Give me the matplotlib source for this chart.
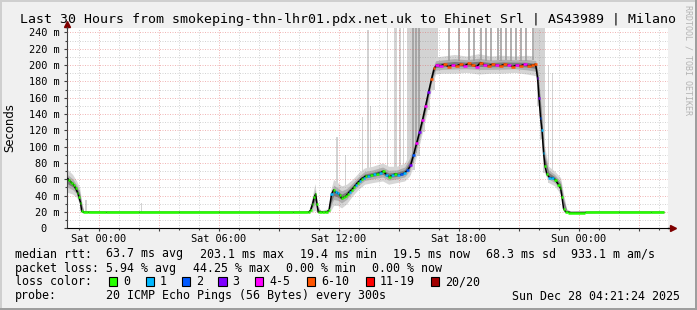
import numpy as np
import matplotlib
matplotlib.use('Agg')
import matplotlib.pyplot as plt
from matplotlib.collections import LineCollection
from matplotlib.patches import Rectangle

# hours relative to Sat 00:00, median rtt in ms, lost pings out of 20
t = [-1.54, -1.49, -1.40, -1.32, -1.24, -1.15, -1.04, -0.98, -0.90, -0.85, -0.75,
     -0.30, 1.0, 3.0, 5.0, 7.0, 9.0, 10.40,
     10.50, 10.60, 10.70, 10.78, 10.85, 10.92, 10.98, 11.10, 11.25, 11.40, 11.52,
     11.65, 11.75, 11.85, 11.95, 12.05, 12.15, 12.25, 12.35, 12.45, 12.55, 12.65,
     12.75, 12.85, 12.95, 13.05, 13.15, 13.25, 13.35, 13.50, 13.65, 13.80, 13.95,
     14.10, 14.25, 14.40, 14.55, 14.70, 14.85, 15.00, 15.15, 15.30, 15.45, 15.60,
     15.75, 15.90, 16.05, 16.20, 16.35, 16.50, 16.65, 16.78, 16.90,
     17.10, 17.30, 17.50, 17.70, 17.90, 18.10, 18.30, 18.50, 18.70, 18.90, 19.10,
     19.30, 19.50, 19.70, 19.90, 20.10, 20.30, 20.50, 20.70, 20.90, 21.10, 21.30,
     21.50, 21.70, 21.85,
     21.95, 22.02, 22.10, 22.17, 22.25, 22.32, 22.42, 22.55, 22.70, 22.85, 23.00,
     23.10, 23.17, 23.25, 23.35, 23.60, 25.0, 27.0, 28.25]
median = [61, 59, 57, 55, 53, 49, 43, 38, 31, 21, 19.8,
          19.6, 19.5, 19.5, 19.5, 19.5, 19.5, 19.6,
          19.8, 22, 30, 38, 42, 30, 20, 20.5, 19.5, 20, 22,
          42, 47, 44, 43, 41, 37, 38, 39, 42, 45, 47,
          50, 53, 56, 58, 61, 62, 64, 64, 65, 66, 67,
          68, 70, 65, 63, 65, 67, 65, 66, 68, 71, 77,
          90, 104, 118, 133, 150, 167, 183, 196, 200,
          199, 201, 198, 200, 199, 201, 199, 202, 200, 198, 203,
          200, 199, 201, 200, 199, 201, 200, 198, 200, 199, 201,
          199, 200, 201,
          184, 160, 135, 120, 92, 76, 66, 62, 62, 59, 53,
          49, 38, 24, 20.3, 19.3, 19.5, 19.5, 19.5]
loss = [1, 0, 0, 0, 0, 0, 0, 0, 0, 0, 0,
        0, 0, 0, 0, 0, 0, 0,
        0, 0, 0, 0, 0, 0, 0, 0, 0, 0, 0,
        1, 0, 1, 1, 0, 0, 0, 0, 0, 1, 0,
        0, 1, 0, 1, 0, 1, 0, 1, 0, 1, 0,
        1, 0, 1, 0, 1, 0, 1, 2, 1, 2, 3,
        2, 4, 3, 4, 4, 3, 8, 8, 5,
        5, 8, 8, 5, 8, 8, 5, 8, 8, 5, 8,
        5, 8, 8, 5, 8, 8, 5, 8, 5, 8, 5,
        8, 8, 8,
        3, 3, 2, 1, 1, 0, 0, 1, 1, 0, 0,
        0, 0, 0, 0, 0, 0, 0, 0]

# smoke envelope (spread of the 20 pings)
smoke_t = [-1.55, -1.30, -1.10, -0.95, -0.85, -0.75, -0.60, 10.50, 10.65, 10.82,
           10.95, 11.10, 11.50, 11.62, 11.75, 11.95, 12.15, 12.40, 12.70, 13.00,
           13.30, 13.70, 14.20, 14.50, 14.90, 15.30, 15.55, 15.80, 16.10, 16.40,
           16.65, 16.85, 17.20, 17.80, 18.40, 19.00, 19.60, 20.20, 20.80, 21.40,
           21.85, 21.95, 22.10, 22.30, 22.50, 22.80, 23.10, 23.25, 23.40, 23.60, 28.25]
smoke_lo = [44, 42, 38, 30, 19, 19, 19, 19, 20, 22,
            19, 19, 19, 22, 28, 28, 25, 30, 40, 48,
            54, 56, 58, 54, 56, 58, 64, 80, 108, 140,
            172, 189, 190, 190, 191, 189, 190, 190, 191, 189,
            187, 168, 120, 68, 56, 52, 42, 20, 19, 19, 19]
smoke_hi = [72, 66, 58, 50, 34, 22, 21, 21, 35, 55,
            28, 22, 24, 48, 60, 56, 52, 54, 60, 68,
            74, 76, 80, 76, 76, 80, 92, 112, 138, 170,
            200, 210, 211, 213, 211, 214, 211, 212, 211, 212,
            211, 205, 170, 100, 76, 70, 62, 42, 24, 21, 21]

# light grey outlier columns
spike_t = [-0.62, 2.15, 11.90, 12.35, 13.20, 13.45, 13.60, 14.45, 14.85, 15.05,
           15.25, 15.52, 15.72, 15.95, 16.20, 16.45, 16.70, 16.90, 21.85, 22.00,
           22.15, 22.28, 22.50, 22.70]
spike_w = [0.08, 0.08, 0.10, 0.06, 0.08, 0.10, 0.06, 0.06, 0.12, 0.10,
           0.06, 0.16, 0.22, 0.26, 0.26, 0.26, 0.24, 0.16, 0.14, 0.16,
           0.16, 0.10, 0.07, 0.07]
spike_lo = [19, 19, 30, 35, 50, 55, 58, 60, 58, 58,
            60, 65, 72, 88, 118, 145, 170, 190, 186, 150,
            110, 68, 55, 55]
spike_hi = [35, 31, 112, 90, 136, 243, 150, 246, 246, 246,
            246, 246, 246, 246, 246, 246, 246, 246, 246, 246,
            246, 246, 200, 190]

# darker outlier lines
dark_t = [15.70, 15.85, 16.00, 17.50, 18.00, 18.50, 18.75, 19.10, 19.35, 19.60,
          19.95, 20.10, 20.35, 20.60, 20.85, 21.10, 21.35, 21.70]
dark_lo = [80, 92, 112, 205, 205, 206, 205, 206, 205, 205,
           206, 205, 206, 205, 206, 205, 205, 206]
dark_hi = [246, 246, 246, 246, 246, 246, 246, 246, 246, 246,
           246, 246, 246, 246, 246, 246, 246, 246]

loss_labels = ['0', '1', '2', '3', '4-5', '6-10', '11-19', '20/20']
loss_colors = ['#26ff00', '#00b8ff', '#0059ff', '#7e00ff', '#ff00ff', '#ff5500', '#ff0000', '#a10000']

ytick_vals = [0, 20, 40, 60, 80, 100, 120, 140, 160, 180, 200, 220, 240]
ytick_labels = ['0  '] + ['%d m' % v for v in ytick_vals[1:]]
xtick_vals = [0, 3, 6, 9, 12, 15, 18, 21, 24, 27]
xtick_labels = ['Sat 00:00', '', 'Sat 06:00', '', 'Sat 12:00', '', 'Sat 18:00', '', 'Sun 00:00', '']

W, H = 697, 310
MONO = 'DejaVu Sans Mono'

def fx(px):
    return px / W

def fy(py):
    return 1 - py / H

fig = plt.figure(figsize=(W / 100, H / 100), dpi=100, facecolor='#f0f0f0')
ax = fig.add_axes([fx(67), fy(228.3), (668 - 67) / W, (228.3 - 27.5) / H])
ax.set_facecolor('white')
ax.set_xlim(-1.58, 28.47)
ax.set_ylim(0, 246)

# outliers
ax.bar(spike_t, np.array(spike_hi) - np.array(spike_lo), width=spike_w, bottom=spike_lo,
       color='#d3d3d3', linewidth=0, zorder=1)

# smoke in three shades
s_lo = np.array(smoke_lo, float)
s_hi = np.array(smoke_hi, float)
mid = (s_lo + s_hi) / 2
half = (s_hi - s_lo) / 2
for f, c in [(1.0, '#d6d6d6'), (0.55, '#b0b0b0'), (0.25, '#7a7a7a')]:
    ax.fill_between(smoke_t, mid - f * half, mid + f * half, color=c, linewidth=0, zorder=1.2)

ax.vlines(dark_t, dark_lo, dark_hi, color='#9a9a9a', linewidth=1.1, zorder=1.3)

# median line
ax.plot(t, median, color='black', linewidth=1.1, zorder=3)

# loss coloured median
ta = np.array(t)
ma = np.array(median)
edges = np.concatenate([[ta[0]], (ta[1:] + ta[:-1]) / 2, [ta[-1]]])
cat = np.digitize(loss, [1, 2, 3, 4, 6, 11, 20])
segs = [[(edges[i], ma[i]), (edges[i + 1], ma[i])] for i in range(len(ta))]
lc = LineCollection(segs, colors=[loss_colors[c] for c in cat], linewidths=1.8,
                    capstyle='butt', zorder=4)
ax.add_collection(lc)

# grid
ax.set_yticks(ytick_vals)
ax.set_yticklabels(ytick_labels, family=MONO, fontsize=7.4)
ax.set_yticks(np.arange(10, 246, 20), minor=True)
ax.set_xticks(xtick_vals)
ax.set_xticklabels(xtick_labels, family=MONO, fontsize=7.4)
ax.set_xticks(np.arange(-1, 29, 1), minor=True)
ax.grid(which='major', color='#e06060', alpha=0.45, linestyle=(0, (1, 1.5)), linewidth=0.72, zorder=2.5)
ax.grid(which='minor', color='#8f8f8f', alpha=0.38, linestyle=(0, (1, 1.5)), linewidth=0.72, zorder=2.5)
ax.set_axisbelow(False)

ax.tick_params(which='major', length=2.5, width=0.8, color='#404040')
ax.tick_params(which='minor', length=1.5, width=0.8, color='#404040')
ax.tick_params(axis='x', pad=1.5)
ax.tick_params(axis='y', pad=3)
for s in ['top', 'right']:
    ax.spines[s].set_visible(False)
ax.spines['left'].set_color('#404040')
ax.spines['bottom'].set_color('black')

# arrows
ax.plot([1.0, 1.006], [0, 0], color='black', linewidth=1, transform=ax.transAxes, clip_on=False)
ax.plot([1.008], [0], marker='>', markersize=5, color='#7f0000', transform=ax.transAxes, clip_on=False)
ax.plot([0, 0], [1.0, 1.01], color='#404040', linewidth=1, transform=ax.transAxes, clip_on=False)
ax.plot([0], [1.017], marker='^', markersize=5, color='#7f0000', transform=ax.transAxes, clip_on=False)

# texts
fig.text(fx(19.5), fy(19), 'Last 30 Hours from smokeping-thn-lhr01.pdx.net.uk to Ehinet Srl | AS43989 | Milano',
         family=MONO, fontsize=9.5, ha='left', va='center')
fig.text(fx(10), fy(127.5), 'Seconds', rotation=90, ha='center', va='center', fontsize=8.4,
         family='DejaVu Sans')
fig.text(fx(688), fy(60), 'RRDTOOL / TOBI OETIKER', rotation=270, ha='center', va='center',
         fontsize=6, family=MONO, color='#b4b4b4')

rows = [
    (254, [('median rtt:', 16), ('63.7 ms avg', 107), ('203.1 ms max', 200.7), ('19.4 ms min', 300.5),
           ('19.5 ms now', 393.3), ('68.3 ms sd', 486.7), ('933.1 m am/s', 572)]),
    (268.3, [('packet loss:', 16), ('5.94 % avg', 107), ('44.25 % max', 193.3), ('0.00 % min', 286.7),
             ('0.00 % now', 372.5)]),
    (296, [('probe:', 16), ('20 ICMP Echo Pings (56 Bytes) every 300s', 107),
           ('Sun Dec 28 04:21:24 2025', 513)]),
]
for y, items in rows:
    for s, x in items:
        fig.text(fx(x - 0.7), fy(y), s, family=MONO, fontsize=8.4, ha='left', va='center')

fig.text(fx(15.3), fy(281.7), 'loss color:', family=MONO, fontsize=8.4, ha='left', va='center')
box_x = [109, 145.7, 181.7, 218.3, 255, 306.7, 365.7, 431]
lab_x = [124, 160, 196.7, 233, 270, 321.7, 380, 445.7]
for lab, col, bx, lx in zip(loss_labels, loss_colors, box_x, lab_x):
    fig.add_artist(Rectangle((fx(bx), fy(285.5)), 8.3 / W, 8.3 / H, transform=fig.transFigure,
                             facecolor=col, edgecolor='black', linewidth=0.8))
    fig.text(fx(lx - 0.7), fy(281.7), lab, family=MONO, fontsize=8.4, ha='left', va='center')

# 3d frame
fig.add_artist(Rectangle((0, fy(2)), 1, 2 / H, transform=fig.transFigure, color='#cfcfcf', linewidth=0))
fig.add_artist(Rectangle((0, 0), 2 / W, 1, transform=fig.transFigure, color='#cfcfcf', linewidth=0))
fig.add_artist(Rectangle((0, 0), 1, 2.5 / H, transform=fig.transFigure, color='#9e9e9e', linewidth=0))
fig.add_artist(Rectangle((fx(694.5), 0), 2.5 / W, 1, transform=fig.transFigure, color='#9e9e9e', linewidth=0))

fig.savefig('out.png', dpi=100, facecolor=fig.get_facecolor())
